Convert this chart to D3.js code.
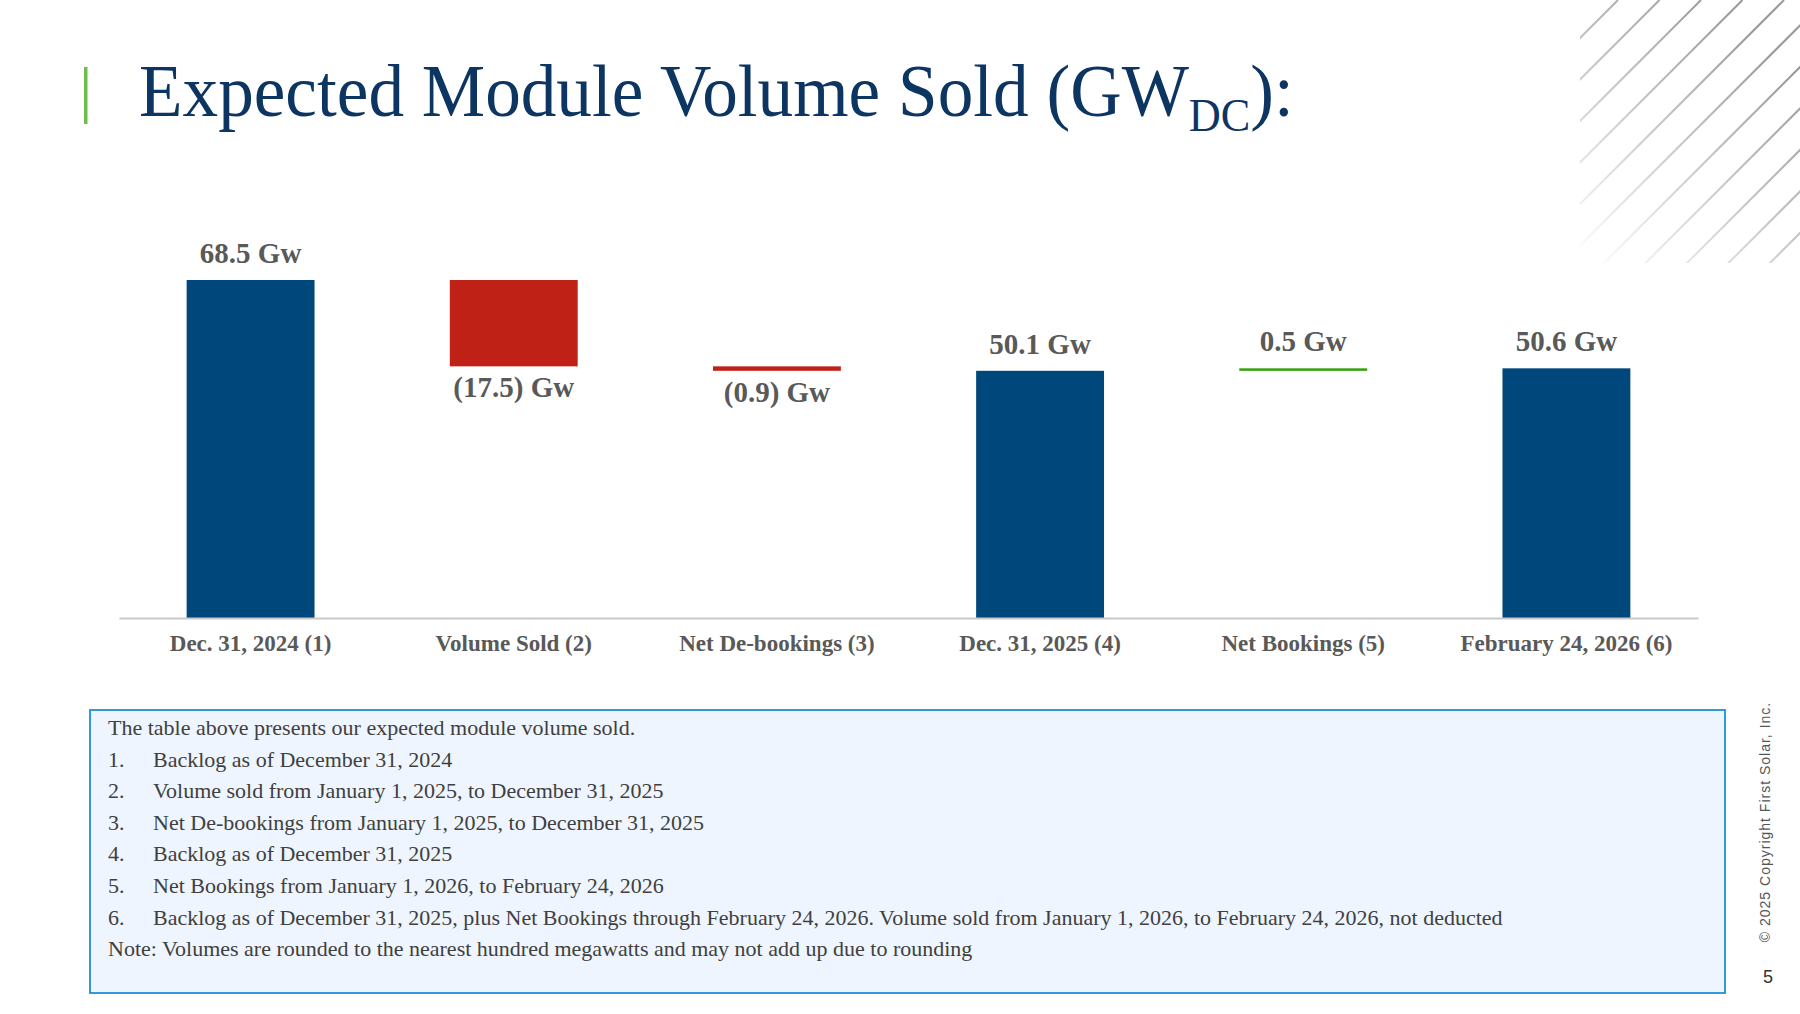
<!DOCTYPE html>
<html>
<head>
<meta charset="utf-8">
<script src="https://cdn.jsdelivr.net/npm/d3@7"></script>
<style>
  body { margin: 0; background: #fff; }
  svg { display: block; }
</style>
</head>
<body>
<div id="chart"></div>
<script>
const categories = ["Dec. 31, 2024 (1)", "Volume Sold (2)", "Net De-bookings (3)", "Dec. 31, 2025 (4)", "Net Bookings (5)", "February 24, 2026 (6)"];
const values = [68.5, -17.5, -0.9, 50.1, 0.5, 50.6];
const kinds = ["total", "delta", "delta", "total", "delta", "total"];
const valueLabels = ["68.5 Gw", "(17.5) Gw", "(0.9) Gw", "50.1 Gw", "0.5 Gw", "50.6 Gw"];

const footnotes = [
  "Backlog as of December 31, 2024",
  "Volume sold from January 1, 2025, to December 31, 2025",
  "Net De-bookings from January 1, 2025, to December 31, 2025",
  "Backlog as of December 31, 2025",
  "Net Bookings from January 1, 2026, to February 24, 2026",
  "Backlog as of December 31, 2025, plus Net Bookings through February 24, 2026. Volume sold from January 1, 2026, to February 24, 2026, not deducted"
];
const introNote = "The table above presents our expected module volume sold.";
const closingNote = "Note: Volumes are rounded to the nearest hundred megawatts and may not add up due to rounding";

const W = 1800, H = 1014;
const serif = "Georgia, 'Liberation Serif', serif";
const gray = "#595959";

const svg = d3.select("#chart")
  .append("svg")
  .attr("width", W)
  .attr("height", H);

// =====================
// DECORATION (top-right hatching)
// =====================
const defs = svg.append("defs");
const grad = defs.append("linearGradient")
  .attr("id", "fade")
  .attr("gradientUnits", "userSpaceOnUse")
  .attr("x1", 1580).attr("y1", 263)
  .attr("x2", 1770).attr("y2", 50);
grad.append("stop").attr("offset", 0).attr("stop-color", "#999").attr("stop-opacity", 0);
grad.append("stop").attr("offset", 1).attr("stop-color", "#999").attr("stop-opacity", 1);

defs.append("clipPath").attr("id", "hatchClip")
  .append("rect").attr("x", 1580).attr("y", 0).attr("width", 220).attr("height", 263);

const hatch = svg.append("g").attr("clip-path", "url(#hatchClip)");
d3.range(11).forEach(i => {
  const c = 1618 + i * 41.5;
  hatch.append("line")
    .attr("x1", c - 300).attr("y1", 300)
    .attr("x2", c).attr("y2", 0)
    .attr("stroke", "url(#fade)")
    .attr("stroke-width", 2);
});

// =====================
// TITLE
// =====================
svg.append("rect")
  .attr("x", 84).attr("y", 67)
  .attr("width", 3.5).attr("height", 57)
  .attr("fill", "#6cc04a");

const title = svg.append("text")
  .style("font-family", serif)
  .style("font-size", "74px")
  .attr("fill", "#0d3562");
title.append("tspan").text("Expected Module Volume Sold (GW");
title.append("tspan").attr("dy", 15).style("font-size", "46px").text("DC");
title.append("tspan").attr("dy", -15).text("):");
const tw = title.node().getBBox().width;
title.attr("transform", `translate(139,116) scale(${1155 / tw},1)`);

// =====================
// WATERFALL
// =====================
let running = 0;
const bars = categories.map((c, i) => {
  let lo, hi;
  if (kinds[i] === "total") {
    running = values[i];
    lo = 0; hi = values[i];
  } else {
    const start = running;
    running = running + values[i];
    lo = Math.min(start, running);
    hi = Math.max(start, running);
  }
  return {cat: c, value: values[i], kind: kinds[i], lo, hi, label: valueLabels[i]};
});

const x = d3.scaleBand()
  .domain(categories)
  .range([119, 1698])
  .paddingInner(0.514)
  .paddingOuter(0.257);

const y = d3.scaleLinear()
  .domain([0, 68.5])
  .range([618, 280]);

const color = d => d.kind === "total" ? "#00487c" : (d.value < 0 ? "#c02117" : "#33a00a");

svg.selectAll(".bar")
  .data(bars)
  .enter()
  .append("rect")
  .attr("class", "bar")
  .attr("x", d => x(d.cat))
  .attr("width", x.bandwidth())
  .attr("y", d => y(d.hi))
  .attr("height", d => Math.max(2.5, y(d.lo) - y(d.hi)))
  .attr("fill", color);

svg.selectAll(".val")
  .data(bars)
  .enter()
  .append("text")
  .attr("class", "val")
  .attr("x", d => x(d.cat) + x.bandwidth() / 2)
  .attr("y", d => d.value < 0 ? y(d.lo) + 31 : y(d.hi) - 17)
  .attr("text-anchor", "middle")
  .style("font-family", serif)
  .style("font-weight", "bold")
  .style("font-size", "29px")
  .attr("fill", gray)
  .text(d => d.label);

// =====================
// AXIS
// =====================
const axis = svg.append("g")
  .attr("transform", "translate(0,618)")
  .call(d3.axisBottom(x).tickSize(0).tickPadding(17));

axis.select(".domain")
  .attr("stroke", "#c9c9c9")
  .attr("stroke-width", 2);

axis.selectAll("text")
  .style("font-family", serif)
  .style("font-weight", "bold")
  .style("font-size", "23px")
  .attr("fill", gray);

// =====================
// FOOTNOTE BOX
// =====================
svg.append("rect")
  .attr("x", 90).attr("y", 710)
  .attr("width", 1635).attr("height", 283)
  .attr("fill", "#eef5fe")
  .attr("stroke", "#1b8fd8")
  .attr("stroke-width", 1.8);

const lineY = i => 735 + i * 31.6;
const noteStyle = sel => sel
  .style("font-family", serif)
  .style("font-size", "22px")
  .attr("fill", "#404040");

svg.append("text").attr("x", 108).attr("y", lineY(0)).call(noteStyle).text(introNote);

footnotes.forEach((t, i) => {
  svg.append("text").attr("x", 108).attr("y", lineY(i + 1)).call(noteStyle).text((i + 1) + ".");
  svg.append("text").attr("x", 153).attr("y", lineY(i + 1)).call(noteStyle).text(t);
});

svg.append("text").attr("x", 108).attr("y", lineY(7)).call(noteStyle).text(closingNote);

// =====================
// COPYRIGHT + PAGE
// =====================
svg.append("text")
  .attr("transform", "translate(1770,822) rotate(-90)")
  .attr("text-anchor", "middle")
  .style("font-family", "'Liberation Sans', Arial, sans-serif")
  .style("font-size", "14px")
  .style("letter-spacing", "1px")
  .attr("fill", "#555")
  .text("© 2025 Copyright First Solar, Inc.");

svg.append("text")
  .attr("x", 1768).attr("y", 983)
  .attr("text-anchor", "middle")
  .style("font-family", "'Liberation Sans', Arial, sans-serif")
  .style("font-size", "18px")
  .attr("fill", "#333")
  .text("5");
</script>
</body>
</html>
